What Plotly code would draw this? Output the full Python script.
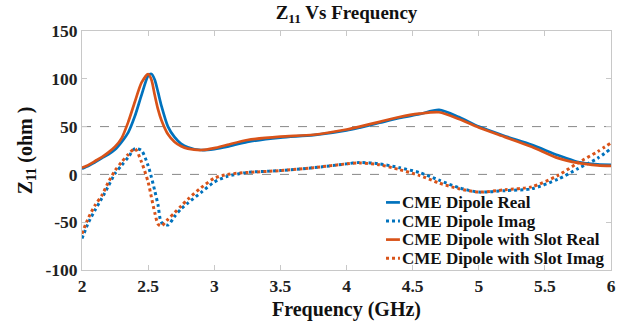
import plotly.graph_objects as go

freq = [2.0, 2.05, 2.1, 2.15, 2.2, 2.25, 2.3, 2.35, 2.4, 2.45, 2.5, 2.525, 2.55, 2.575, 2.6,
        2.65, 2.7, 2.75, 2.8, 2.9, 3.0, 3.1, 3.25, 3.5, 3.75, 4.0, 4.1, 4.25, 4.4, 4.55,
        4.7, 4.85, 5.0, 5.2, 5.4, 5.6, 5.75, 5.9, 6.0]

dipole_real = [6, 9, 13, 17, 21, 26, 34, 44, 61, 83, 103, 105, 99, 86, 72,
               50, 39, 32, 28.5, 25.5, 26.5, 29, 34, 38.5, 41, 46, 49, 54, 59, 63,
               67.5, 60, 50, 40, 31, 20, 13, 10.5, 10]
dipole_imag = [-67, -50, -37, -25, -12, 1, 9.5, 18, 27, 25, 9, -3, -17, -32, -50,
               -53, -44, -36, -30, -19, -8, -2, 2, 4, 7, 11, 12.5, 11, 7, 2,
               -6, -14, -18.5, -17, -15, -5, 6, 17, 27]
slot_real = [7, 10, 14, 18, 23, 29, 38, 55, 76, 96, 105, 99, 83, 68, 57,
             42, 34, 29.5, 27, 25.5, 27.5, 31, 36, 39.5, 41.5, 47, 50, 55, 60, 63.5,
             65, 58, 49, 39, 29, 17, 12, 9.5, 9]
slot_imag = [-62, -45, -32, -22, -8, 4, 13, 21, 27, 13, -8, -24, -40, -52, -54,
             -47, -40, -33, -26, -14, -4, 0, 2, 4, 7, 11, 12, 10, 5, -1,
             -9, -15, -18.5, -16, -13, -1, 12, 24, 33]

series_names = ["CME Dipole Real", "CME Dipole Imag",
                "CME Dipole with Slot Real", "CME Dipole with Slot Imag"]

x_ticks = [2, 2.5, 3, 3.5, 4, 4.5, 5, 5.5, 6]
y_ticks = [-100, -50, 0, 50, 100, 150]
ref_lines = [0, 50]

BLUE = "#0072BD"
ORANGE = "#D95319"
FONT = "Liberation Serif, Times New Roman, serif"

fig = go.Figure()
series = [
    (series_names[0], dipole_real, BLUE, "solid"),
    (series_names[1], dipole_imag, BLUE, "dot"),
    (series_names[2], slot_real, ORANGE, "solid"),
    (series_names[3], slot_imag, ORANGE, "dot"),
]
for name, vals, col, dash in series:
    fig.add_trace(go.Scatter(
        x=freq, y=vals, name=name, mode="lines", showlegend=False,
        line=dict(color=col, width=3 if dash == "dot" else 2.7, dash=dash,
                  shape="spline", smoothing=0.7),
    ))

for v in ref_lines:
    fig.add_hline(y=v, line=dict(color="#888888", width=1, dash="dash"), layer="below")

# compact legend (tight row spacing like the reference)
leg_rows_y = [0.2828, 0.2050, 0.1272, 0.0494]
for (name, vals, col, dash), ly in zip(series, leg_rows_y):
    fig.add_shape(type="line", xref="paper", yref="paper", x0=0.5747, x1=0.601, y0=ly, y1=ly,
                  line=dict(color=col, width=3 if dash == "dot" else 2.7, dash=dash))
    fig.add_annotation(xref="paper", yref="paper", x=0.601, y=ly, xanchor="left", yanchor="middle",
                       text="<b>" + name + "</b>", showarrow=False,
                       font=dict(family=FONT, size=17, color="#111111"))

axis_common = dict(
    showgrid=False, zeroline=False, showline=True, linecolor="#c8c8c8", linewidth=1,
    mirror="ticks", ticks="inside", ticklen=5, tickcolor="#c8c8c8", automargin=False,
    tickfont=dict(family=FONT, size=17.5, color="#222222"),
)

fig.update_layout(
    width=629, height=326,
    paper_bgcolor="white", plot_bgcolor="white",
    margin=dict(l=82, r=18, t=31, b=56),
    title=dict(text="<b>Z<sub>11</sub> Vs Frequency</b>", x=0.5, xref="paper", xanchor="center",
               y=0.962, yref="container", yanchor="middle",
               font=dict(family=FONT, size=19, color="#111111")),
    xaxis=dict(range=[2, 6], tickvals=x_ticks, ticktext=["<b>%g</b>" % t for t in x_ticks],
               title=dict(text="<b>Frequency (GHz)</b>", standoff=6,
                          font=dict(family=FONT, size=20, color="#111111")),
               **axis_common),
    yaxis=dict(range=[-100, 150], tickvals=y_ticks, ticktext=["<b>%g</b>" % t for t in y_ticks],
               title=dict(text="<b>Z<sub>11</sub> (ohm )</b>", standoff=7,
                          font=dict(family=FONT, size=20, color="#111111")),
               **axis_common),
    showlegend=False,
)

fig.write_html("out.html", config={"displayModeBar": False},
               post_script="document.body.style.margin='0px';")
